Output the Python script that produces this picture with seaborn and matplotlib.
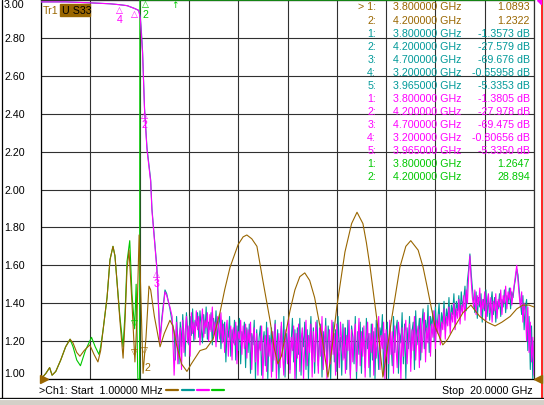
import numpy as np
import pandas as pd
import seaborn as sns
import matplotlib.pyplot as plt
from matplotlib.lines import Line2D
from matplotlib.patches import Rectangle, Polygon

sns.set_theme(style='white')
plt.rcParams['font.family'] = ['Liberation Sans', 'DejaVu Sans']

BROWN = '#996600'
TEAL = '#009999'
MAGENTA = '#ff00ff'
GREEN = '#00c800'
GRID = '#303030'
FS = 7.7

# Tr1 (brown) - frequency in GHz, reading
tr1_f = [0.001, 0.2, 0.35, 0.45, 0.6, 0.8, 1.0, 1.18, 1.3, 1.45, 1.58, 1.75, 1.98, 2.15,
         2.31, 2.42, 2.52, 2.68, 2.8, 2.92, 3.0, 3.08, 3.2, 3.33, 3.41, 3.49, 3.57, 3.69,
         3.81, 3.89, 3.98, 4.06, 4.14, 4.26, 4.38, 4.45, 4.6, 4.83, 5.0, 5.23, 5.35, 5.5,
         5.7, 5.92, 6.1, 6.45, 6.7, 6.98, 7.26, 7.45, 7.67, 8.0, 8.2, 8.35, 8.55, 8.76,
         9.0, 9.29, 9.45, 9.61, 9.75, 9.9, 10.1, 10.3, 10.5, 10.7, 10.9, 11.1, 11.4, 11.64,
         11.8, 12.0, 12.33, 12.6, 12.82, 13.06, 13.2, 13.35, 13.63, 13.87, 14.05, 14.24,
         14.56, 14.8, 15.0, 15.3, 15.5, 15.66, 15.98, 16.3, 16.5, 16.71, 17.12, 17.44, 17.8,
         18.1, 18.42, 18.7, 19.03, 19.3, 19.55, 19.8, 20.0]
tr1_v = [1.0, 1.03, 1.06, 1.02, 1.04, 1.10, 1.17, 1.21, 1.19, 1.14, 1.12, 1.15, 1.18, 1.13,
         1.09, 1.15, 1.26, 1.43, 1.63, 1.70, 1.65, 1.52, 1.31, 1.11, 1.31, 1.58, 1.68, 1.40,
         1.09, 1.31, 1.76, 1.40, 1.03, 1.22, 1.49, 1.47, 1.33, 1.17, 1.24, 1.31, 1.28, 1.18,
         1.08, 1.04, 1.08, 1.15, 1.16, 1.21, 1.35, 1.47, 1.59, 1.71, 1.75, 1.76, 1.74, 1.70,
         1.52, 1.31, 1.17, 1.08, 1.12, 1.22, 1.36, 1.47, 1.54, 1.56, 1.52, 1.43, 1.22, 1.01,
         1.16, 1.38, 1.67, 1.82, 1.88, 1.82, 1.72, 1.59, 1.31, 1.01, 1.16, 1.33,
         1.59, 1.70, 1.73, 1.68, 1.59, 1.49, 1.28, 1.18, 1.21, 1.26, 1.35, 1.39, 1.33,
         1.30, 1.28, 1.30, 1.33, 1.37, 1.39, 1.39, 1.38]

# Tr4 (green) - runs off the top of the scale above 4 GHz
tr4_f = [0.001, 0.2, 0.35, 0.45, 0.6, 0.8, 1.0, 1.18, 1.3, 1.45, 1.6, 1.8, 2.05, 2.2, 2.35,
         2.42, 2.52, 2.68, 2.8, 2.92, 3.0, 3.08, 3.2, 3.33, 3.41, 3.49, 3.6, 3.69, 3.8, 3.86,
         3.93, 4.0, 4.01, 20.0]
tr4_v = [1.0, 1.03, 1.06, 1.02, 1.04, 1.10, 1.17, 1.21, 1.17, 1.10, 1.07, 1.15, 1.22, 1.17, 1.13,
         1.17, 1.26, 1.43, 1.63, 1.70, 1.65, 1.52, 1.33, 1.17, 1.35, 1.62, 1.73, 1.45, 1.265, 1.5,
         1.0, 1.0, 3.0, 3.0]

# Tr2 (teal) and Tr3 (magenta): filter edge part
edge_f = [0.001, 1.0, 2.0, 2.8, 3.2, 3.5, 3.8, 3.965, 4.03, 4.08, 4.12, 4.2, 4.3, 4.45,
          4.5, 4.62, 4.7, 4.76, 4.83, 4.9, 5.03, 5.1, 5.23, 5.32]
tr2_edge = [2.99, 2.99, 2.985, 2.98, 2.975, 2.97, 2.955, 2.945, 2.91, 2.82, 2.73, 2.43, 2.22,
            2.05, 1.90, 1.71, 1.59, 1.42, 1.21, 1.32, 1.47, 1.45, 1.37, 1.30]
tr3_edge = [2.99, 2.99, 2.985, 2.98, 2.975, 2.97, 2.955, 2.945, 2.90, 2.80, 2.72, 2.42, 2.21,
            2.04, 1.89, 1.70, 1.58, 1.40, 1.19, 1.30, 1.46, 1.44, 1.38, 1.33]

# stopband readings, 5.4 GHz to 20 GHz in 0.05 GHz steps
tr2_noise = [
    1.25, 1.10, 1.33, 1.20, 1.08, 1.30, 1.17, 1.34, 1.22, 1.12, 1.35, 1.26, 1.18, 1.33, 1.23, 1.37, 1.20, 1.31, 1.28, 1.35,
    1.22, 1.36, 1.27, 1.19, 1.34, 1.24, 1.38, 1.21, 1.30, 1.26, 1.35, 1.18, 1.32, 1.24, 1.36, 1.20, 1.29, 1.34, 1.16, 1.31,
    1.20, 1.30, 1.09, 1.27, 1.22, 1.33, 1.12, 1.26, 1.19, 1.31, 1.10, 1.28, 1.15, 1.32, 1.08, 1.25, 1.21, 1.30, 1.06, 1.27,
    1.14, 1.29, 1.03, 1.24, 1.18, 1.31, 1.00, 1.26, 1.10, 1.22, 1.28, 1.02, 1.19, 1.25, 1.07, 1.30, 1.00, 1.23, 1.16, 1.27,
    1.04, 1.21, 1.31, 1.08, 1.26, 1.00, 1.19, 1.28, 1.12, 1.33, 1.01, 1.24, 1.15, 1.29, 1.05, 1.20, 1.32, 1.09, 1.26, 1.00,
    1.27, 1.13, 1.32, 1.02, 1.24, 1.17, 1.30, 1.05, 1.26, 1.00, 1.21, 1.33, 1.10, 1.27, 1.03, 1.23, 1.31, 1.07, 1.20, 1.29,
    1.01, 1.25, 1.14, 1.32, 1.06, 1.28, 1.19, 1.00, 1.24, 1.30, 1.09, 1.26, 1.04, 1.33, 1.15, 1.22, 1.02, 1.29, 1.11, 1.27,
    1.05, 1.31, 1.18, 1.02, 1.28, 1.22, 1.08, 1.33, 1.00, 1.25, 1.13, 1.30, 1.03, 1.27, 1.20, 1.06, 1.32, 1.16, 1.24, 1.01,
    1.29, 1.10, 1.25, 1.00, 1.31, 1.18, 1.05, 1.27, 1.22, 1.34, 1.02, 1.24, 1.12, 1.30, 1.00, 1.28, 1.19, 1.07, 1.33, 1.14,
    1.26, 1.31, 1.03, 1.24, 1.19, 1.35, 1.08, 1.29, 1.00, 1.27, 1.16, 1.33, 1.11, 1.25, 1.30, 1.05, 1.36, 1.18, 1.24, 1.32,
    1.10, 1.28, 1.37, 1.16, 1.31, 1.22, 1.39, 1.14, 1.33, 1.27, 1.36, 1.20, 1.38, 1.25, 1.32, 1.40, 1.21, 1.35, 1.29, 1.41,
    1.26, 1.37, 1.31, 1.43, 1.28, 1.39, 1.34, 1.45, 1.30, 1.41, 1.36, 1.44, 1.33, 1.46, 1.38, 1.42, 1.49, 1.36, 1.52, 1.58,
    1.66, 1.56, 1.48, 1.41, 1.35, 1.46, 1.32, 1.43, 1.38, 1.45, 1.30, 1.42, 1.36, 1.47, 1.33, 1.44, 1.31, 1.40, 1.46, 1.34,
    1.43, 1.30, 1.41, 1.37, 1.45, 1.33, 1.42, 1.38, 1.47, 1.35, 1.44, 1.40, 1.48, 1.37, 1.46, 1.43, 1.49, 1.53, 1.58, 1.55,
    1.47, 1.40, 1.34, 1.44, 1.26, 1.38, 1.42, 1.15, 1.33, 1.05, 1.28, 1.00, 1.20]
tr3_noise = [
    1.02, 1.18, 1.30, 1.08, 1.22, 1.27, 1.05, 1.31, 1.14, 1.25, 1.33, 1.19, 1.28, 1.12, 1.35, 1.24, 1.30, 1.21, 1.36, 1.26,
    1.33, 1.18, 1.29, 1.37, 1.22, 1.31, 1.27, 1.35, 1.20, 1.34, 1.25, 1.38, 1.23, 1.30, 1.17, 1.33, 1.28, 1.21, 1.35, 1.19,
    1.29, 1.14, 1.26, 1.31, 1.12, 1.24, 1.28, 1.10, 1.27, 1.18, 1.30, 1.08, 1.25, 1.21, 1.31, 1.13, 1.28, 1.16, 1.29, 1.11,
    1.26, 1.19, 1.30, 1.05, 1.22, 1.27, 1.09, 1.24, 1.02, 1.20, 1.15, 1.28, 1.00, 1.18, 1.23, 1.04, 1.27, 1.12, 1.21, 1.01,
    1.25, 1.10, 1.29, 1.00, 1.17, 1.24, 1.06, 1.30, 1.13, 1.02, 1.26, 1.19, 1.08, 1.32, 1.03, 1.22, 1.15, 1.28, 1.00, 1.24,
    1.11, 1.29, 1.04, 1.20, 1.27, 1.00, 1.18, 1.31, 1.07, 1.23, 1.14, 1.29, 1.01, 1.25, 1.09, 1.30, 1.16, 1.03, 1.27, 1.12,
    1.33, 1.05, 1.21, 1.28, 1.00, 1.19, 1.26, 1.08, 1.31, 1.13, 1.24, 1.02, 1.29, 1.17, 1.06, 1.30, 1.20, 1.10, 1.27, 1.03,
    1.23, 1.15, 1.31, 1.00, 1.26, 1.09, 1.22, 1.29, 1.04, 1.18, 1.32, 1.07, 1.25, 1.12, 1.28, 1.01, 1.21, 1.30, 1.06, 1.24,
    1.14, 1.29, 1.02, 1.27, 1.11, 1.20, 1.33, 1.05, 1.23, 1.16, 1.30, 1.00, 1.26, 1.19, 1.08, 1.31, 1.13, 1.25, 1.03, 1.28,
    1.17, 1.06, 1.30, 1.22, 1.00, 1.27, 1.12, 1.24, 1.31, 1.08, 1.20, 1.29, 1.04, 1.26, 1.15, 1.33, 1.10, 1.23, 1.28, 1.06,
    1.32, 1.14, 1.25, 1.35, 1.09, 1.27, 1.19, 1.33, 1.12, 1.29, 1.22, 1.36, 1.16, 1.31, 1.24, 1.34, 1.18, 1.30, 1.26, 1.37,
    1.21, 1.33, 1.28, 1.38, 1.24, 1.35, 1.30, 1.40, 1.26, 1.37, 1.32, 1.42, 1.29, 1.39, 1.35, 1.44, 1.31, 1.47, 1.40, 1.55,
    1.65, 1.52, 1.43, 1.38, 1.47, 1.34, 1.44, 1.39, 1.48, 1.33, 1.42, 1.37, 1.46, 1.31, 1.40, 1.45, 1.35, 1.43, 1.30, 1.41,
    1.36, 1.45, 1.32, 1.42, 1.38, 1.47, 1.34, 1.44, 1.40, 1.49, 1.37, 1.46, 1.42, 1.48, 1.39, 1.45, 1.50, 1.55, 1.60, 1.52,
    1.44, 1.38, 1.46, 1.30, 1.40, 1.35, 1.20, 1.38, 1.14, 1.30, 1.09, 1.22, 1.02]
noise_f2 = np.linspace(5.4, 20.0, len(tr2_noise))
noise_f3 = np.linspace(5.4, 20.0, len(tr3_noise))

# marker table
mk_num = ['> 1:', '2:', '1:', '2:', '3:', '4:', '5:', '1:', '2:', '3:', '4:', '5:', '1:', '2:']
mk_freq = ['3.800000 GHz', '4.200000 GHz', '3.800000 GHz', '4.200000 GHz', '4.700000 GHz',
           '3.200000 GHz', '3.965000 GHz', '3.800000 GHz', '4.200000 GHz', '4.700000 GHz',
           '3.200000 GHz', '3.965000 GHz', '3.800000 GHz', '4.200000 GHz']
mk_val = ['1.0893', '1.2322', '-1.3573 dB', '-27.579 dB', '-69.676 dB', '-0.65958 dB',
          '-5.3353 dB', '-1.3805 dB', '-27.978 dB', '-69.475 dB', '-0.80656 dB', '-5.3350 dB',
          '1.2647', '28.894']
mk_col = [BROWN] * 2 + [TEAL] * 5 + [MAGENTA] * 5 + [GREEN] * 2

W, H = 544, 405


def fx(x):
    return x / W


def fy(y):
    return 1 - y / H


fig = plt.figure(figsize=(W / 100, H / 100), dpi=100)
fig.patch.set_facecolor('white')
ax = fig.add_axes([fx(41), fy(379), fx(534) - fx(41), fy(0) - fy(379)])
ax.set_facecolor('white')

tr2 = pd.DataFrame({'f': list(edge_f) + list(noise_f2), 'v': list(tr2_edge) + tr2_noise})
tr3 = pd.DataFrame({'f': list(edge_f) + list(noise_f3), 'v': list(tr3_edge) + tr3_noise})
tr1 = pd.DataFrame({'f': tr1_f, 'v': tr1_v})
tr4 = pd.DataFrame({'f': tr4_f, 'v': tr4_v})

lw = 0.8
sns.lineplot(x='f', y='v', data=tr4, ax=ax, color=GREEN, lw=lw, sort=False, estimator=None,
             zorder=3, clip_on=False)
sns.lineplot(x='f', y='v', data=tr2, ax=ax, color=TEAL, lw=lw, sort=False, estimator=None, zorder=4)
sns.lineplot(x='f', y='v', data=tr3, ax=ax, color=MAGENTA, lw=lw, sort=False, estimator=None, zorder=5)
sns.lineplot(x='f', y='v', data=tr1, ax=ax, color=BROWN, lw=lw, sort=False, estimator=None, zorder=6)

ax.set_xlim(0.001, 20)
ax.set_ylim(1.0, 3.0)
ax.set_xticks(np.arange(0, 20.1, 2))
ax.set_xticklabels([])
ax.set_yticks(np.arange(1.0, 3.01, 0.2))
ax.set_yticklabels(['%.2f' % t for t in np.arange(1.0, 3.01, 0.2)], fontsize=FS)
ax.tick_params(axis='both', length=0)
ax.tick_params(axis='y', pad=26.6, colors='black')
for lab in ax.get_yticklabels():
    lab.set_horizontalalignment('left')
ylabs = ax.get_yticklabels()
ylabs[0].set_verticalalignment('bottom')
ylabs[-1].set_verticalalignment('top')
ax.set_xlabel('')
ax.set_ylabel('')
ax.grid(True, color=GRID, lw=0.8)
for s in ax.spines.values():
    s.set_color(GRID)
    s.set_linewidth(0.9)
ax.spines['left'].set_color('black')
ax.spines['bottom'].set_color('black')

# markers on the magenta trace
tr3_v = list(tr3_edge) + tr3_noise
tr3_f = list(edge_f) + list(noise_f3)
for f, n in zip([3.2, 3.8, 4.2, 4.7], ['4', '', '2', '3']):
    v = np.interp(f, tr3_f, tr3_v)
    ax.annotate('\u25b3', (f, v), xytext=(0, -4), textcoords='offset points', ha='center',
                va='center', fontsize=6.5, color=MAGENTA, family='DejaVu Sans', zorder=8)
    if n:
        ax.annotate(n, (f, v), xytext=(0, -11), textcoords='offset points', ha='center',
                    va='center', fontsize=FS, color=MAGENTA, zorder=8)

# markers on brown and green traces
for f, src_f, vals, col, n in [(3.8, tr1_f, tr1_v, BROWN, ''), (4.2, tr1_f, tr1_v, BROWN, '2'),
                               (3.8, tr4_f, tr4_v, GREEN, '')]:
    v = np.interp(f, src_f, vals)
    ax.annotate('\u25bd', (f, v), xytext=(0, 3), textcoords='offset points', ha='center',
                va='center', fontsize=6.5, color=col, family='DejaVu Sans', zorder=8)
    if n:
        ax.annotate(n, (f, v), xytext=(2, -9), textcoords='offset points', ha='center',
                    va='center', fontsize=FS, color=col, zorder=8)
ax.annotate('\u25b3', (4.25, 3.0), xytext=(0, -3), textcoords='offset points', ha='center',
            va='center', fontsize=6.5, color=GREEN, family='DejaVu Sans', zorder=8)
ax.annotate('2', (4.2, 3.0), xytext=(1, -11), textcoords='offset points', ha='center',
            va='center', fontsize=FS, color=GREEN, zorder=8)
ax.annotate('\u2191', (5.45, 3.0), xytext=(0, -4), textcoords='offset points', ha='center',
            va='center', fontsize=6.5, color=GREEN, family='DejaVu Sans', zorder=8)

# trace label
fig.text(fx(43), fy(10.5), 'Tr1', color=BROWN, fontsize=FS, ha='left', va='center')
fig.add_artist(Rectangle((fx(60), fy(16)), fx(90) - fx(60), fy(4) - fy(16),
                         transform=fig.transFigure, color=BROWN, zorder=9))
fig.text(fx(62), fy(10.5), 'U S33', color='black', fontsize=FS, ha='left', va='center', zorder=10)

# marker table
for i in range(len(mk_num)):
    y = 7.5 + 13.05 * i
    fig.text(fx(376), fy(y), mk_num[i], color=mk_col[i], fontsize=FS, ha='right', va='center')
    fig.text(fx(393), fy(y), mk_freq[i], color=mk_col[i], fontsize=FS, ha='left', va='center')
    fig.text(fx(530), fy(y), mk_val[i], color=mk_col[i], fontsize=FS, ha='right', va='center')

# footer
fig.text(fx(39), fy(391), '>Ch1: Start  1.00000 MHz', fontsize=FS, color='black',
         ha='left', va='center')
fig.text(fx(533), fy(391), 'Stop  20.0000 GHz', fontsize=FS, color='black',
         ha='right', va='center')
for x0, col in zip([166, 182, 197, 212], [BROWN, TEAL, MAGENTA, GREEN]):
    fig.add_artist(Line2D([fx(x0), fx(x0 + 12)], [fy(390), fy(390)], color=col, lw=1.6,
                          transform=fig.transFigure))

# reference triangles
fig.add_artist(Line2D([fx(44)], [fy(379)], marker='>', ms=6, color=BROWN, mec=BROWN,
                      transform=fig.transFigure, zorder=10))
fig.add_artist(Line2D([fx(537.5)], [fy(379)], marker='<', ms=6, color=BROWN, mec=BROWN,
                      transform=fig.transFigure, zorder=10))
fig.add_artist(Polygon([[fx(537), fy(0)], [fx(541), fy(0)], [fx(541), fy(4)]],
                       transform=fig.transFigure, color=MAGENTA, zorder=10))

# window frame
fig.add_artist(Line2D([fx(2), fx(2)], [fy(0), fy(397.5)], color='black', lw=0.9,
                      transform=fig.transFigure))
fig.add_artist(Line2D([fx(541.5), fx(541.5)], [fy(0), fy(397.5)], color='#ff0000', lw=1.2,
                      transform=fig.transFigure))
fig.add_artist(Rectangle((fx(543), fy(405)), fx(544) - fx(543) + 0.01, fy(0) - fy(405),
                         transform=fig.transFigure, color='#d4d0c8'))
fig.add_artist(Rectangle((0, 0), 1, fy(398), transform=fig.transFigure, color='#d4d0c8'))
fig.add_artist(Line2D([0, 1], [fy(397.5), fy(397.5)], color='black', lw=0.9,
                      transform=fig.transFigure))
fig.add_artist(Line2D([0, 1], [fy(399), fy(399)], color='white', lw=0.8,
                      transform=fig.transFigure))

plt.savefig('out.png', dpi=100)
